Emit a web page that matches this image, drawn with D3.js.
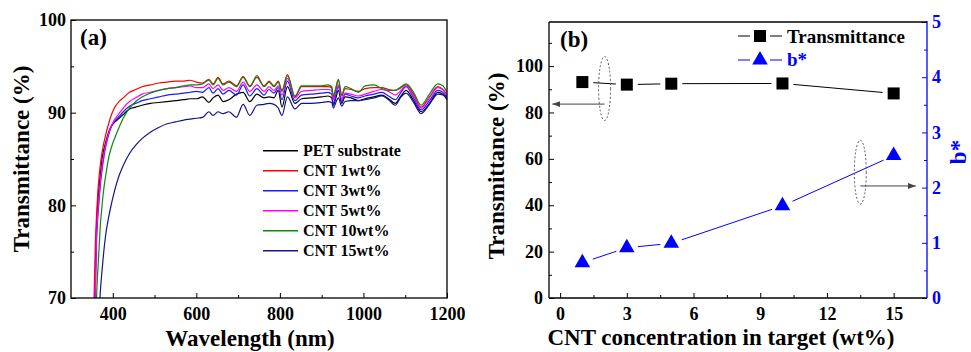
<!DOCTYPE html>
<html>
<head>
<meta charset="utf-8">
<script src="https://cdn.jsdelivr.net/npm/d3@7"></script>
<style>
body { margin: 0; background: #fff; }
svg text { font-family: "Liberation Serif", "Times New Roman", serif; font-weight: bold; }
</style>
</head>
<body>
<svg id="chart" width="971" height="352" font-family="Liberation Serif, serif"></svg>
<script>
// ---- panel (a) data: transmittance spectra ----
var wavelength = [355,358,361,364,367,370,374,378,383,390,397,405,415,425,440,455,470,490,510,530,550,570,585,
  600,615,630,640,652,664,678,696,712,728,745,762,774,786,796,805,818,836,852,875,900,
  915,924,928,934,940,948,956,970,988,1004,1025,1044,1060,1076,1090,1102,1120,1138,1158,1178,1190,1200];

var pet = [65,72.5,77.5,80.2,81.9,83.2,84.9,85.9,86.8,87.9,88.6,89.0,89.4,89.8,90.4,90.6,90.8,91.0,91.1,91.2,91.3,91.4,91.5,
  91.5,91.7,91.1,91.6,91.9,91.2,91.4,92.0,92.2,91.2,92.0,91.6,91.7,91.6,92.4,90.6,92.8,91.0,91.5,91.6,91.7,
  91.8,91.6,90.8,91.6,92.4,91.0,91.7,91.6,91.3,91.5,91.7,91.9,91.5,91.0,91.8,92.4,91.3,90.1,91.0,92.2,92.0,91.5];
var cnt1 = [69.5,75.5,78.8,81.3,83.0,84.3,85.6,86.6,87.6,88.8,89.8,90.6,91.2,91.6,92.2,92.5,92.8,93.0,93.2,93.3,93.4,93.4,93.5,
  93.3,93.2,93.6,93.1,93.8,93.1,93.4,92.9,93.9,92.9,93.8,92.9,93.4,92.9,93.4,92.4,94.1,91.7,92.8,92.8,92.8,
  92.8,92.7,91.6,92.6,93.5,91.8,92.6,92.5,92.3,92.6,92.7,92.7,92.5,92.4,92.7,93.0,92.0,90.6,91.7,92.8,92.5,91.9];
var cnt3 = [61,69.8,76.0,78.6,80.4,82.1,83.7,85.0,86.3,87.6,88.5,89.1,89.6,90.1,90.7,91.0,91.3,91.5,91.7,91.9,92.0,92.1,92.2,
  92.3,92.2,92.7,92.1,92.6,92.0,92.4,91.9,93.0,91.8,92.6,91.9,92.5,92.1,92.7,91.4,93.4,91.3,91.9,92.0,92.1,
  92.2,92.0,90.9,92.0,92.8,91.2,92.0,91.8,91.6,91.8,92.0,92.2,91.8,91.4,92.2,92.8,91.6,90.3,91.3,92.4,92.2,91.6];
var cnt5 = [62,70.5,76.5,79.0,80.7,82.4,84.0,85.3,86.5,87.8,88.6,89.3,89.9,90.5,91.2,91.6,92.0,92.2,92.4,92.6,92.7,92.8,92.9,
  92.7,92.7,93.1,92.6,93.0,92.4,92.7,92.3,93.3,92.3,93.0,92.3,92.8,92.4,92.9,91.9,93.7,91.6,92.3,92.4,92.5,
  92.5,92.4,91.4,92.3,93.0,91.5,92.1,92.0,91.8,92.0,92.3,92.5,92.3,91.9,92.4,92.9,91.8,90.5,91.6,92.7,92.5,91.8];
var cnt10 = [60,63,69.8,72.8,75.2,77.7,79.8,81.6,83.2,85.1,86.3,87.3,88.4,89.4,90.5,91.2,91.7,92.1,92.4,92.6,92.7,92.9,93.0,
  93.0,93.1,93.5,93.0,93.7,93.0,93.3,92.8,93.8,92.8,94.0,92.8,93.3,92.8,93.3,92.3,94.0,91.8,92.9,92.9,92.9,
  93.0,92.8,91.8,92.7,93.6,91.9,92.8,92.6,92.2,92.9,93.0,92.6,92.4,92.4,92.8,93.1,92.2,90.8,92.0,93.1,92.9,92.2];
var cnt15 = [45,52,58,63,67.5,70.5,72.8,74.8,76.8,78.7,80.2,81.7,83.2,84.3,85.6,86.5,87.2,87.9,88.4,88.8,89.0,89.2,89.3,
  89.4,89.5,90.1,89.7,90.1,89.9,90.1,89.5,90.9,89.7,90.8,90.9,91.0,90.9,90.5,89.7,91.7,90.4,91.0,91.0,91.1,
  91.2,91.1,90.5,91.1,91.6,90.7,91.2,91.3,91.3,91.4,91.6,91.8,91.4,90.8,91.7,92.1,91.1,89.9,90.9,92.0,91.9,91.4];

var seriesNames = ["PET substrate", "CNT 1wt%", "CNT 3wt%", "CNT 5wt%", "CNT 10wt%", "CNT 15wt%"];
var seriesValues = [pet, cnt1, cnt3, cnt5, cnt10, cnt15];
var seriesColors = ["#000000", "#ff0000", "#1a1aff", "#ff00ff", "#0a8a0a", "#14148a"];

var waveTicks = [400, 600, 800, 1000, 1200];
var waveMinor = [500, 700, 900, 1100];
var transTicksA = [70, 80, 90, 100];
var transMinorA = [75, 85, 95];

// ---- panel (b) data ----
var concentration = [1, 3, 5, 10, 15];
var transmittance = [93.1, 92.0, 92.4, 92.5, 88.2];
var bStar = [0.64, 0.91, 0.99, 1.67, 2.58];

var concTicks = [0, 3, 6, 9, 12, 15];
var concMinor = [1.5, 4.5, 7.5, 10.5, 13.5];
var transTicksB = [0, 20, 40, 60, 80, 100];
var transMinorB = [10, 30, 50, 70, 90, 110];
var bTicks = [0, 1, 2, 3, 4, 5];
var bMinor = [0.5, 1.5, 2.5, 3.5, 4.5];

// dashed ellipses with arrows pointing to the matching axis
var noteX = [2, 13.5];
var noteY = [90.3, 2.28];
var arrowToX = [-0.35, 16.0];
var arrowY = [83.6, 2.03];

var fmt = d3.format("d");

var svg = d3.select("#chart");
svg.append("rect").attr("width", 971).attr("height", 352).attr("fill", "#fff");

var defs = svg.append("defs");
defs.append("clipPath").attr("id", "clipA")
  .append("rect").attr("x", 71).attr("y", 20).attr("width", 376).attr("height", 278);
defs.append("marker")
    .attr("id", "arrow")
    .attr("viewBox", "0 0 8 6")
    .attr("refX", 8).attr("refY", 3)
    .attr("markerWidth", 8).attr("markerHeight", 6)
    .attr("markerUnits", "userSpaceOnUse")
    .attr("orient", "auto")
  .append("path").attr("d", "M0,0L8,3L0,6Z").attr("fill", "#444");

function styleAxis(g, size) {
  g.attr("font-size", size).attr("font-family", null);
  g.select(".domain").remove();
}

// ================= panel (a) =================
var xa = d3.scaleLinear().domain([300, 1200]).range([71, 447]);
var ya = d3.scaleLinear().domain([70, 100]).range([298, 20]);

var lineA = d3.line()
    .x(function(d, i) { return xa(wavelength[i]); })
    .y(function(d) { return ya(d); })
    .curve(d3.curveMonotoneX);

seriesValues.forEach(function(vals, k) {
  svg.append("path")
      .attr("d", lineA(vals))
      .attr("fill", "none")
      .attr("stroke", seriesColors[k])
      .attr("stroke-width", 1.2)
      .attr("clip-path", "url(#clipA)");
});

svg.append("g")
    .attr("transform", "translate(0,298)")
    .call(d3.axisBottom(xa).tickValues(waveTicks).tickFormat(fmt).tickSize(-5).tickPadding(9))
    .call(styleAxis, 18);
svg.append("g")
    .attr("transform", "translate(0,298)")
    .call(d3.axisBottom(xa).tickValues(waveMinor).tickSize(-3).tickFormat(""))
    .call(styleAxis, 18);
svg.append("g")
    .attr("transform", "translate(71,0)")
    .call(d3.axisLeft(ya).tickValues(transTicksA).tickFormat(fmt).tickSize(-5).tickPadding(5))
    .call(styleAxis, 18);
svg.append("g")
    .attr("transform", "translate(71,0)")
    .call(d3.axisLeft(ya).tickValues(transMinorA).tickSize(-3).tickFormat(""))
    .call(styleAxis, 18);

svg.append("rect")
    .attr("x", 71).attr("y", 20).attr("width", 376).attr("height", 278)
    .attr("fill", "none").attr("stroke", "#000").attr("stroke-width", 1.3);

svg.append("text").attr("x", 80).attr("y", 45).attr("font-size", 23).text("(a)");

var legA = svg.append("g");
seriesNames.forEach(function(name, k) {
  var yy = 150.7 + k * 20;
  legA.append("line")
      .attr("x1", 263).attr("x2", 298).attr("y1", yy).attr("y2", yy)
      .attr("stroke", seriesColors[k]).attr("stroke-width", 1.5);
  legA.append("text").attr("x", 303).attr("y", yy + 5.5).attr("font-size", 16).text(name);
});

svg.append("text")
    .attr("transform", "translate(29,159) rotate(-90)")
    .attr("text-anchor", "middle").attr("font-size", 23)
    .text("Transmittance (%)");
svg.append("text")
    .attr("x", 250).attr("y", 346)
    .attr("text-anchor", "middle").attr("font-size", 23)
    .text("Wavelength (nm)");

// ================= panel (b) =================
var xb = d3.scaleLinear().domain([-0.5, 16.5]).range([549, 927]);
var yb = d3.scaleLinear().domain([0, 119]).range([298, 22]);
var yb2 = d3.scaleLinear().domain([0, 5]).range([298, 22]);

svg.append("g")
    .attr("transform", "translate(0,298)")
    .call(d3.axisBottom(xb).tickValues(concTicks).tickFormat(fmt).tickSize(-5).tickPadding(9))
    .call(styleAxis, 18);
svg.append("g")
    .attr("transform", "translate(0,298)")
    .call(d3.axisBottom(xb).tickValues(concMinor).tickSize(-3).tickFormat(""))
    .call(styleAxis, 18);
svg.append("g")
    .attr("transform", "translate(549,0)")
    .call(d3.axisLeft(yb).tickValues(transTicksB).tickFormat(fmt).tickSize(-5).tickPadding(6))
    .call(styleAxis, 18);
svg.append("g")
    .attr("transform", "translate(549,0)")
    .call(d3.axisLeft(yb).tickValues(transMinorB).tickSize(-3).tickFormat(""))
    .call(styleAxis, 18);
svg.append("g")
    .attr("transform", "translate(927,0)")
    .attr("color", "#0000ff")
    .call(d3.axisRight(yb2).tickValues(bTicks).tickFormat(fmt).tickSize(-5).tickPadding(5))
    .call(styleAxis, 18);
svg.append("g")
    .attr("transform", "translate(927,0)")
    .attr("color", "#0000ff")
    .call(d3.axisRight(yb2).tickValues(bMinor).tickSize(-3).tickFormat(""))
    .call(styleAxis, 18);

// frame
var frame = svg.append("g").attr("stroke-width", 1.3);
frame.append("line").attr("x1", 549).attr("x2", 927).attr("y1", 22).attr("y2", 22).attr("stroke", "#000");
frame.append("line").attr("x1", 549).attr("x2", 927).attr("y1", 298).attr("y2", 298).attr("stroke", "#000");
frame.append("line").attr("x1", 549).attr("x2", 549).attr("y1", 22).attr("y2", 298).attr("stroke", "#000");
frame.append("line").attr("x1", 927).attr("x2", 927).attr("y1", 21).attr("y2", 298).attr("stroke", "#0000ff");

// connecting lines with gaps around the markers
function gapped(xs, ys, gap) {
  var segs = [];
  for (var i = 0; i < xs.length - 1; i++) {
    var dx = xs[i + 1] - xs[i], dy = ys[i + 1] - ys[i];
    var len = Math.sqrt(dx * dx + dy * dy);
    var ux = dx / len, uy = dy / len;
    segs.push([xs[i] + ux * gap, ys[i] + uy * gap, xs[i + 1] - ux * gap, ys[i + 1] - uy * gap]);
  }
  return segs;
}

var px = concentration.map(function(c) { return xb(c); });
var pyT = transmittance.map(function(v) { return yb(v); });
var pyB = bStar.map(function(v) { return yb2(v); });

svg.selectAll(".segT")
    .data(gapped(px, pyT, 11))
  .enter().append("line")
    .attr("x1", function(d) { return d[0]; }).attr("y1", function(d) { return d[1]; })
    .attr("x2", function(d) { return d[2]; }).attr("y2", function(d) { return d[3]; })
    .attr("stroke", "#000").attr("stroke-width", 1);

svg.selectAll(".segB")
    .data(gapped(px, pyB, 11))
  .enter().append("line")
    .attr("x1", function(d) { return d[0]; }).attr("y1", function(d) { return d[1]; })
    .attr("x2", function(d) { return d[2]; }).attr("y2", function(d) { return d[3]; })
    .attr("stroke", "#0000ff").attr("stroke-width", 1);

svg.selectAll(".sq")
    .data(concentration)
  .enter().append("rect")
    .attr("x", function(d, i) { return px[i] - 6; })
    .attr("y", function(d, i) { return pyT[i] - 6; })
    .attr("width", 12).attr("height", 12)
    .attr("fill", "#000");

var tri = d3.symbol().type(d3.symbolTriangle).size(105);
svg.selectAll(".tri")
    .data(concentration)
  .enter().append("path")
    .attr("d", tri)
    .attr("transform", function(d, i) { return "translate(" + px[i] + "," + pyB[i] + ")"; })
    .attr("fill", "#0000ff");

// annotations
var yScales = [yb, yb2];
noteX.forEach(function(nx, k) {
  var sy = yScales[k];
  svg.append("ellipse")
      .attr("cx", xb(nx)).attr("cy", sy(noteY[k]))
      .attr("rx", 6).attr("ry", 32)
      .attr("fill", "none").attr("stroke", "#555")
      .attr("stroke-width", 1).attr("stroke-dasharray", "2,2");
  svg.append("line")
      .attr("x1", xb(nx)).attr("x2", xb(arrowToX[k]))
      .attr("y1", sy(arrowY[k])).attr("y2", sy(arrowY[k]))
      .attr("stroke", "#444").attr("stroke-width", 1)
      .attr("marker-end", "url(#arrow)");
});

svg.append("text").attr("x", 560).attr("y", 47).attr("font-size", 23).text("(b)");

// legend (b)
var legB = svg.append("g");
legB.append("line").attr("x1", 738).attr("x2", 750).attr("y1", 36).attr("y2", 36).attr("stroke", "#000");
legB.append("line").attr("x1", 770).attr("x2", 782).attr("y1", 36).attr("y2", 36).attr("stroke", "#000");
legB.append("rect").attr("x", 754).attr("y", 30).attr("width", 12).attr("height", 12).attr("fill", "#000");
legB.append("text").attr("x", 787).attr("y", 42.5).attr("font-size", 19).text("Transmittance");
legB.append("line").attr("x1", 738).attr("x2", 750).attr("y1", 60).attr("y2", 60).attr("stroke", "#0000ff");
legB.append("line").attr("x1", 770).attr("x2", 782).attr("y1", 60).attr("y2", 60).attr("stroke", "#0000ff");
legB.append("path").attr("d", tri).attr("transform", "translate(760,60)").attr("fill", "#0000ff");
legB.append("text").attr("x", 787).attr("y", 66).attr("font-size", 19).attr("fill", "#0000ff").text("b*");

svg.append("text")
    .attr("transform", "translate(504,166) rotate(-90)")
    .attr("text-anchor", "middle").attr("font-size", 23)
    .text("Transmittance (%)");
svg.append("text")
    .attr("transform", "translate(966,152) rotate(-90)")
    .attr("text-anchor", "middle").attr("font-size", 23)
    .attr("fill", "#0000ff")
    .text("b*");
svg.append("text")
    .attr("x", 721).attr("y", 345)
    .attr("text-anchor", "middle").attr("font-size", 23)
    .text("CNT concentration in target (wt%)");
</script>
</body>
</html>
